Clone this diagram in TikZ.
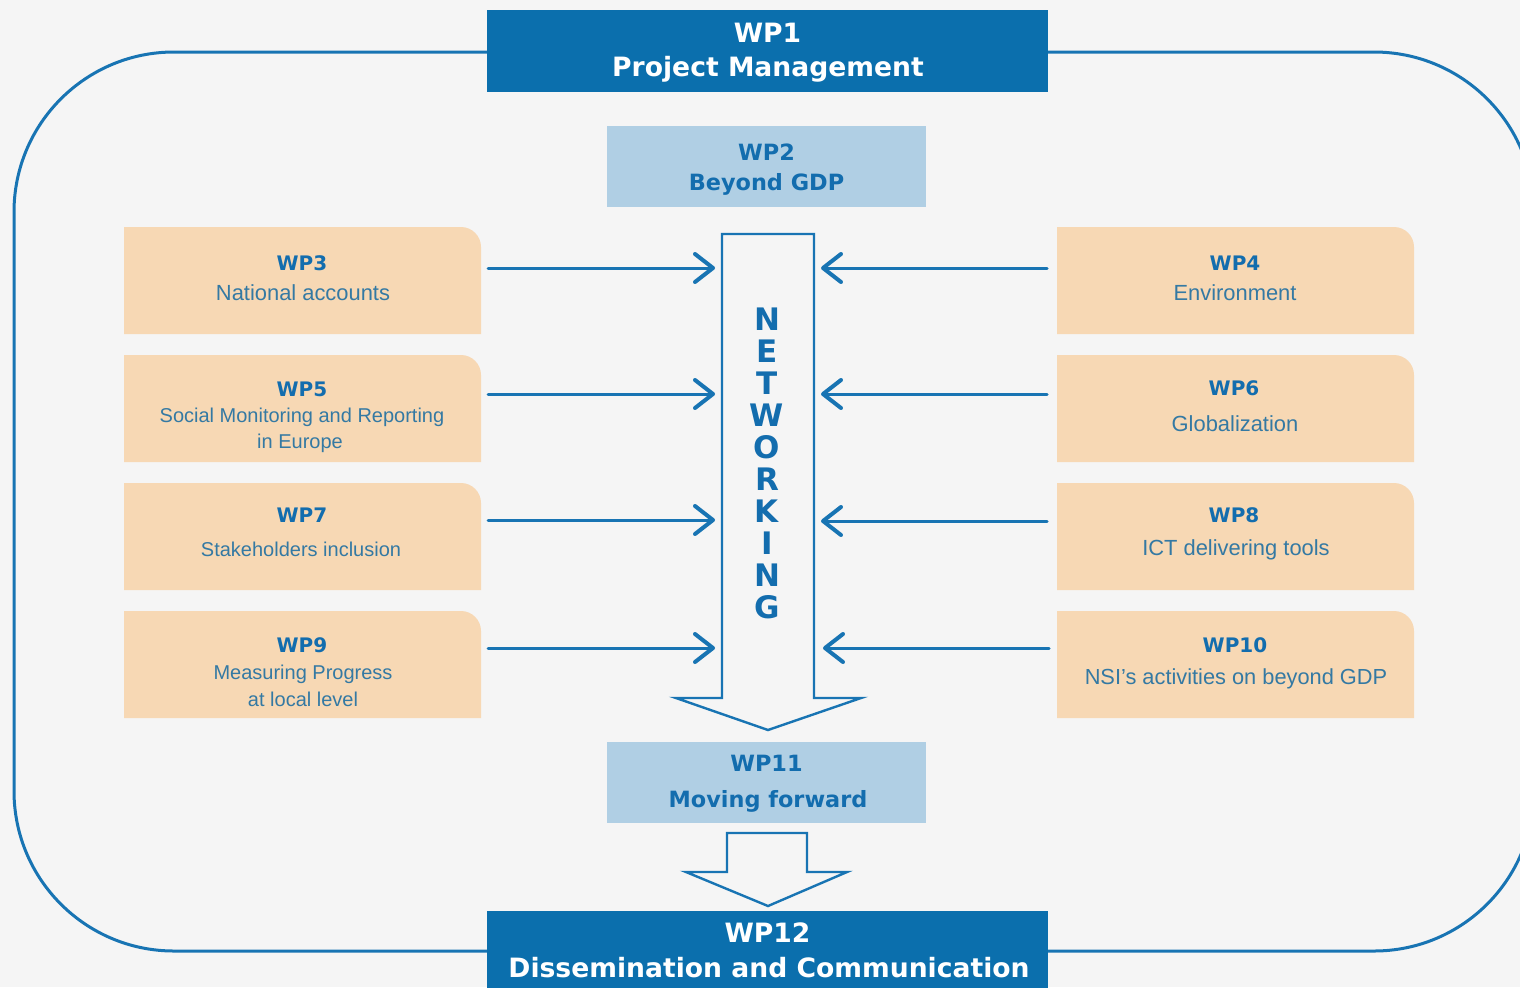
\documentclass[tikz,border=0pt]{standalone}
\usepackage{fontspec}
\setmainfont{Liberation Sans}
\newfontfamily\vbf{DejaVu Sans}
\usetikzlibrary{arrows.meta}
\definecolor{bg}{HTML}{F5F5F5}
\definecolor{darkblue}{HTML}{0B6FAD}
\definecolor{lightblue}{HTML}{B0CFE4}
\definecolor{peach}{HTML}{F7D8B4}
\definecolor{lineblue}{HTML}{1874B3}
\definecolor{wpblue}{HTML}{136DAE}
\definecolor{subteal}{HTML}{3479A3}
\tikzset{
  darkbox/.style={fill=darkblue, draw=none, inner sep=0pt},
  lightbox/.style={fill=lightblue, draw=none, inner sep=0pt, minimum width=159.5pt, minimum height=40.5pt},
  wtitle/.style={text=white, inner sep=0pt, font=\vbf\bfseries\fontsize{13.3}{16}\selectfont, text height=0.73em, text depth=0pt},
  ltitle/.style={text=wpblue, inner sep=0pt, font=\vbf\bfseries\fontsize{11.2}{14}\selectfont, text height=0.73em, text depth=0pt},
  wplabel/.style={text=wpblue, inner sep=0pt, font=\vbf\bfseries\fontsize{10}{12}\selectfont, text height=0.73em, text depth=0pt},
  wpsub/.style={text=subteal, inner sep=0pt, font=\fontsize{#1}{12}\selectfont, text height=0.72em, text depth=0pt},
  wpsub/.default=10.4,
  netletters/.style={text=wpblue, inner sep=0pt, align=center, font=\vbf\bfseries\fontsize{15.5}{16}\selectfont},
  conn/.style={draw=lineblue, line width=1.5pt, line cap=round, -{Straight Barb[length=9pt, width=14pt, line width=2pt, line cap=round, line join=round]}},
  bigarrow/.style={draw=lineblue, line width=1.2pt, line join=miter},
  outer/.style={draw=lineblue, line width=1.5pt},
}
\begin{document}
\begin{tikzpicture}[x=0.5pt,y=-0.5pt]
\useasboundingbox (0,0) rectangle (1520,987);
\clip (0,0) rectangle (1520,987);
\fill[bg] (0,0) rectangle (1520,987);
% outer loop
\draw[outer, rounded corners=80pt] (14,52) rectangle (1534,951);
% WP1
\node[darkbox, minimum width=280.5pt, minimum height=41pt] (wp1) at (767.5,51) {};
\node[wtitle] (wp1a) at (767.5,35) {WP1};
\node[wtitle] (wp1b) at (768,69) {Project Management};
% WP12
\node[darkbox, minimum width=280.5pt, minimum height=44pt] (wp12) at (767.5,955) {};
\node[wtitle] (wp12a) at (767.5,935) {WP12};
\node[wtitle] (wp12b) at (769,970) {Dissemination and Communication};
% WP2
\node[lightbox] (wp2) at (766.5,166.5) {};
\node[ltitle] (wp2a) at (766.5,153) {WP2};
\node[ltitle] (wp2b) at (766.5,183) {Beyond GDP};
% WP11
\node[lightbox] (wp11) at (766.5,782) {};
\node[ltitle] (wp11a) at (766.5,764) {WP11};
\node[ltitle] (wp11b) at (768,800) {Moving forward};
% peach boxes
\foreach \t/\b in {227/334,355/462,483/590,611/718}{
  \fill[peach] (124,\b) -- (124,\t) -- (461,\t) arc[start angle=90,end angle=0,radius=10pt] -- (481,\b) -- cycle;
  \fill[peach] (1057,\b) -- (1057,\t) -- (1394,\t) arc[start angle=90,end angle=0,radius=10pt] -- (1414,\b) -- cycle;
}
% texts left
\node[wplabel] (wp3) at (302,263) {WP3};
\node[wpsub=10.95] (wp3s) at (303,293) {National accounts};
\node[wplabel] (wp5) at (302,389) {WP5};
\node[wpsub=10] (wp5s) at (302,415) {Social Monitoring and Reporting};
\node[wpsub=10] (wp5t) at (300,441) {in Europe};
\node[wplabel] (wp7) at (302,515) {WP7};
\node[wpsub=10] (wp7s) at (301,549) {Stakeholders inclusion};
\node[wplabel] (wp9) at (302,645) {WP9};
\node[wpsub=10] (wp9s) at (303,672) {Measuring Progress};
\node[wpsub=10] (wp9t) at (303,699) {at local level};
% texts right
\node[wplabel] (wp4) at (1235,263) {WP4};
\node[wpsub=10.95] (wp4s) at (1235,293) {Environment};
\node[wplabel] (wp6) at (1234,388) {WP6};
\node[wpsub=10.95] (wp6s) at (1235,424) {Globalization};
\node[wplabel] (wp8) at (1234,515) {WP8};
\node[wpsub=10.95] (wp8s) at (1236,548) {ICT delivering tools};
\node[wplabel] (wp10) at (1235,645) {WP10};
\node[wpsub=10.9] (wp10s) at (1236,677) {NSI's activities on beyond GDP};
% networking arrow
\draw[bigarrow] (722,234) -- (814,234) -- (814,698) -- (861,698) -- (768,730) -- (676,698) -- (722,698) -- cycle;
\node[netletters] (net) at (767,463.5) {N\\E\\T\\W\\O\\R\\K\\I\\N\\G};
% second arrow
\draw[bigarrow] (727,833) -- (807,833) -- (807,872) -- (847,872) -- (768,906) -- (686,872) -- (727,872) -- cycle;
% connector coordinates
\coordinate (l1s) at (488,268); \coordinate (l1e) at (715,268);
\coordinate (l2s) at (488,394); \coordinate (l2e) at (715,394);
\coordinate (l3s) at (488,520); \coordinate (l3e) at (715,520);
\coordinate (l4s) at (488,648); \coordinate (l4e) at (715,648);
\coordinate (r1s) at (1047,268); \coordinate (r1e) at (821,268);
\coordinate (r2s) at (1047,394); \coordinate (r2e) at (821,394);
\coordinate (r3s) at (1047,521); \coordinate (r3e) at (821,521);
\coordinate (r4s) at (1049,648); \coordinate (r4e) at (823,648);
\foreach \a in {l1,l2,l3,l4,r1,r2,r3,r4}{
  \draw[conn] (\a s) -- (\a e);
}
\end{tikzpicture}
\end{document}
